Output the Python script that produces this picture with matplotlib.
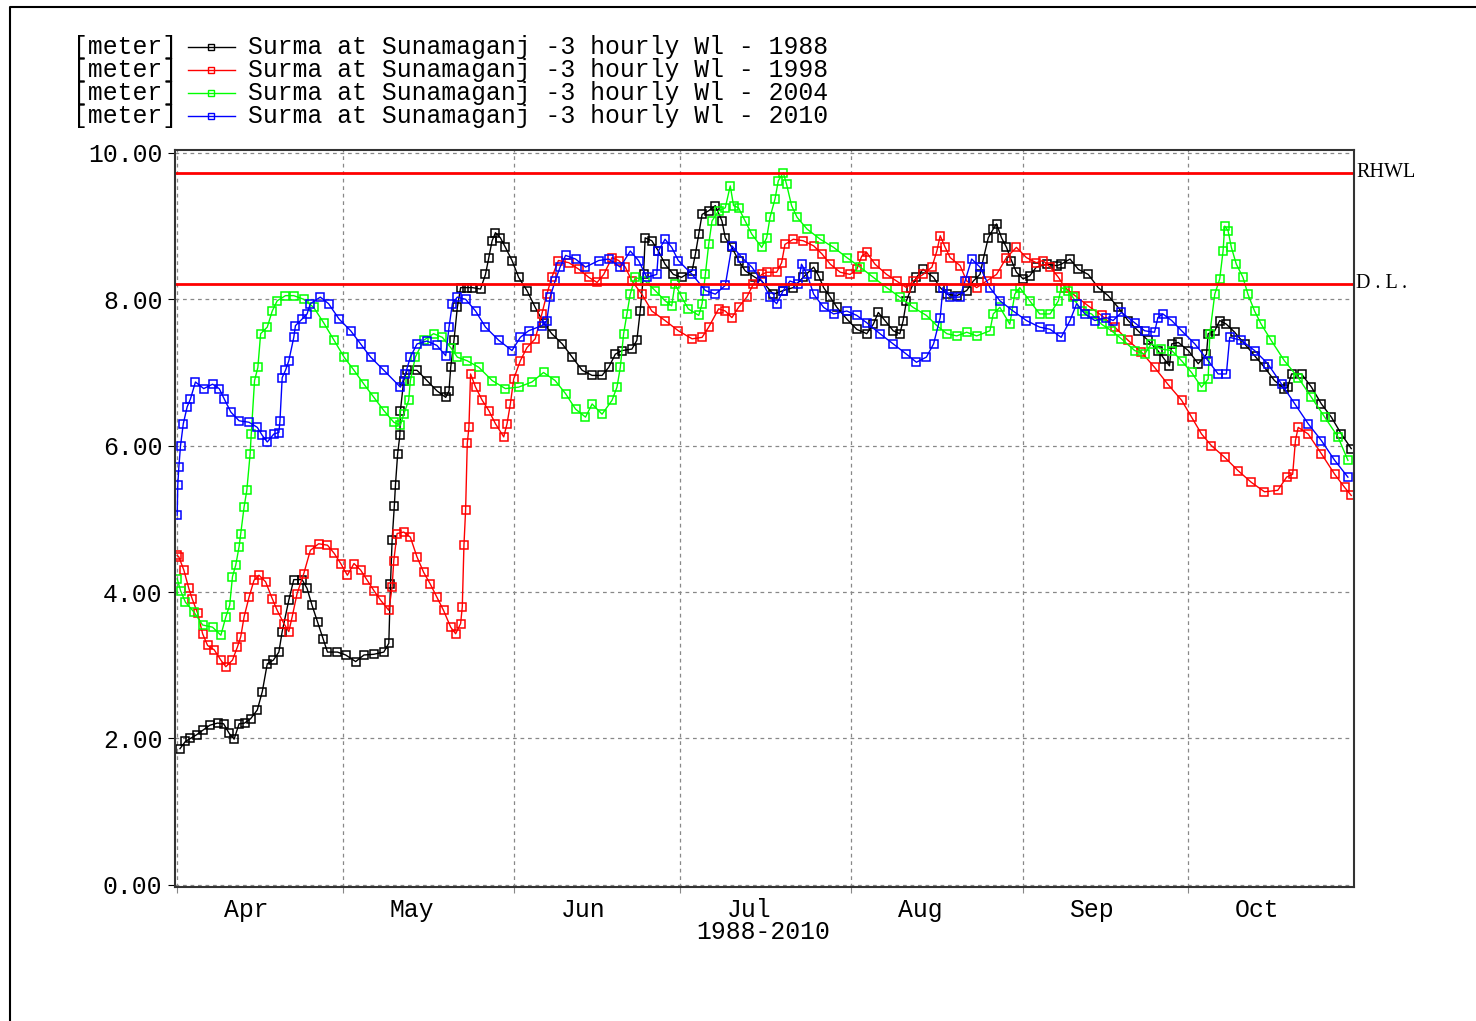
import matplotlib
matplotlib.use("Agg")
import matplotlib.pyplot as plt
from matplotlib.lines import Line2D

# days since 1 April, water level [m]
days_1988 = [0.5, 1.5, 2.4, 3.5, 4.6, 5.9, 7.3, 8.4, 9.4, 10.3, 11.2, 12.2, 13.3, 14.5, 15.4, 16.3, 17.4, 18.4, 19.0, 20.2,
             21.1, 22.6, 23.5, 24.4, 25.4, 26.4, 27.2, 29.0, 30.5, 32.3, 33.8, 35.6, 37.4, 38.3, 38.6, 38.9, 39.3, 39.5, 39.9, 40.3,
             40.4, 41.0, 41.6, 43.4, 45.2, 47.0, 48.6, 49.2, 49.5, 50.1, 50.7, 51.3, 52.5, 53.4, 54.9, 55.8, 56.4, 57.0, 57.6, 58.5,
             59.4, 60.6, 61.8, 63.3, 64.8, 66.3, 67.8, 69.7, 71.5, 73.3, 75.1, 76.9, 78.1, 79.3, 80.5, 82.3, 83.2, 83.8, 84.4, 84.7,
             85.9, 87.1, 88.3, 89.8, 91.3, 93.2, 93.8, 94.4, 95.0, 96.2, 97.4, 98.6, 99.2, 100.4, 101.6, 102.8, 104.6, 105.8, 107.9, 109.7,
             111.5, 113.3, 115.2, 116.1, 117.0, 118.2, 119.4, 121.2, 123.0, 124.8, 126.0, 126.9, 128.1, 129.6, 130.8, 131.4, 132.0, 132.9, 133.8, 135.0,
             136.9, 138.1, 139.3, 141.1, 142.9, 144.1, 145.3, 145.9, 146.8, 147.7, 148.3, 149.2, 150.1, 151.0, 151.9, 153.1, 154.3, 155.5, 157.4, 159.2,
             160.0, 161.6, 163.1, 164.9, 166.7, 168.5, 170.3, 172.1, 173.9, 175.7, 177.5, 178.7, 179.6, 180.0, 181.2, 183.0, 184.8, 186.3, 186.6, 187.8,
             188.7, 189.9, 191.4, 193.2, 195.0, 196.8, 198.6, 200.4, 201.0, 201.7, 203.5, 205.3, 207.1, 208.9, 210.7, 212.5]
wl_1988 = [1.86, 1.96, 2.00, 2.05, 2.11, 2.18, 2.21, 2.20, 2.07, 1.99, 2.20, 2.21, 2.27, 2.39, 2.64, 3.02, 3.07, 3.18, 3.46, 3.89,
           4.17, 4.17, 4.05, 3.82, 3.59, 3.36, 3.18, 3.18, 3.14, 3.05, 3.14, 3.15, 3.18, 3.30, 4.11, 4.71, 5.18, 5.46, 5.89, 6.14,
           6.48, 6.89, 7.03, 7.03, 6.89, 6.75, 6.66, 6.75, 7.07, 7.44, 7.89, 8.16, 8.16, 8.16, 8.14, 8.34, 8.57, 8.80, 8.91, 8.84,
           8.71, 8.53, 8.30, 8.12, 7.89, 7.68, 7.53, 7.39, 7.21, 7.03, 6.96, 6.96, 7.07, 7.25, 7.30, 7.32, 7.44, 7.84, 8.34, 8.84,
           8.80, 8.66, 8.48, 8.34, 8.30, 8.39, 8.62, 8.89, 9.16, 9.21, 9.28, 9.07, 8.84, 8.71, 8.53, 8.39, 8.30, 8.25, 8.07, 8.12,
           8.16, 8.30, 8.44, 8.32, 8.16, 8.03, 7.89, 7.73, 7.59, 7.53, 7.66, 7.82, 7.71, 7.57, 7.53, 7.71, 7.98, 8.16, 8.30, 8.41,
           8.30, 8.16, 8.07, 8.05, 8.12, 8.25, 8.34, 8.55, 8.84, 8.96, 9.03, 8.84, 8.71, 8.53, 8.37, 8.28, 8.32, 8.44, 8.48, 8.46,
           8.48, 8.55, 8.41, 8.34, 8.16, 8.05, 7.89, 7.71, 7.57, 7.44, 7.30, 7.18, 7.09, 7.39, 7.41, 7.30, 7.12, 7.25, 7.53, 7.57,
           7.71, 7.66, 7.55, 7.39, 7.23, 7.07, 6.89, 6.78, 6.80, 6.98, 6.98, 6.80, 6.57, 6.39, 6.16, 5.96]

days_1998 = [0.0, 0.3, 1.2, 2.1, 2.7, 3.7, 4.6, 5.5, 6.7, 7.9, 8.8, 10.0, 10.9, 11.5, 12.1, 13.0, 13.9, 14.8, 16.0, 17.2,
             18.1, 19.3, 20.2, 20.8, 21.7, 22.9, 24.1, 25.6, 27.2, 28.4, 29.6, 30.8, 32.0, 33.2, 34.4, 35.6, 36.8, 38.3, 38.9, 39.2,
             39.8, 41.0, 42.2, 43.4, 44.6, 45.8, 47.0, 48.2, 49.5, 50.4, 51.3, 51.6, 51.9, 52.2, 52.5, 52.8, 53.1, 54.0, 55.2, 56.4,
             57.6, 59.1, 59.7, 60.3, 60.9, 62.1, 63.3, 64.8, 66.0, 66.9, 67.8, 69.0, 70.9, 72.7, 74.5, 76.0, 77.2, 78.7, 79.9, 81.1,
             82.3, 84.1, 85.9, 88.3, 90.7, 93.2, 95.0, 96.2, 98.0, 99.2, 100.4, 101.6, 103.1, 104.3, 105.8, 106.7, 108.5, 109.4, 110.0, 111.5,
             113.3, 115.2, 116.7, 118.2, 120.0, 121.8, 123.0, 123.9, 124.8, 126.3, 128.4, 130.2, 132.0, 133.2, 135.0, 136.6, 137.5, 138.1, 139.0, 139.9,
             141.7, 142.9, 144.7, 146.5, 148.3, 150.1, 151.9, 153.7, 155.5, 156.7, 158.0, 159.5, 160.7, 162.5, 164.9, 167.3, 169.7, 172.1, 174.5, 176.9,
             179.3, 181.8, 183.6, 185.4, 187.2, 189.6, 192.0, 194.4, 196.8, 199.2, 200.8, 201.9, 202.4, 202.9, 204.7, 207.1, 209.5, 211.3, 212.5]
wl_1998 = [4.50, 4.48, 4.30, 4.05, 3.91, 3.71, 3.43, 3.27, 3.21, 3.07, 2.98, 3.07, 3.25, 3.39, 3.66, 3.93, 4.16, 4.23, 4.14, 3.91,
           3.75, 3.57, 3.46, 3.66, 3.98, 4.25, 4.57, 4.66, 4.64, 4.53, 4.39, 4.23, 4.39, 4.30, 4.16, 4.02, 3.89, 3.75, 4.07, 4.43,
           4.80, 4.82, 4.75, 4.48, 4.27, 4.11, 3.93, 3.75, 3.52, 3.43, 3.57, 3.80, 4.64, 5.12, 6.03, 6.25, 6.98, 6.80, 6.62, 6.48,
           6.30, 6.12, 6.30, 6.57, 6.91, 7.16, 7.34, 7.46, 7.80, 8.07, 8.30, 8.53, 8.50, 8.41, 8.30, 8.23, 8.34, 8.57, 8.53, 8.44,
           8.25, 8.07, 7.84, 7.71, 7.57, 7.46, 7.48, 7.62, 7.87, 7.84, 7.75, 7.89, 8.03, 8.21, 8.34, 8.37, 8.37, 8.50, 8.75, 8.82,
           8.80, 8.73, 8.62, 8.48, 8.37, 8.34, 8.41, 8.59, 8.64, 8.48, 8.34, 8.25, 8.16, 8.25, 8.34, 8.44, 8.66, 8.87, 8.71, 8.57,
           8.46, 8.25, 8.16, 8.25, 8.34, 8.57, 8.71, 8.57, 8.50, 8.53, 8.44, 8.30, 8.16, 8.05, 7.91, 7.78, 7.62, 7.44, 7.28, 7.07,
           6.84, 6.62, 6.39, 6.16, 6.00, 5.84, 5.66, 5.50, 5.37, 5.39, 5.57, 5.61, 6.07, 6.25, 6.16, 5.89, 5.61, 5.43, 5.32]

days_2004 = [0.0, 0.6, 1.5, 3.0, 4.6, 6.4, 7.9, 8.8, 9.5, 10.0, 10.6, 11.2, 11.5, 12.1, 12.6, 13.2, 13.4, 14.0, 14.6, 15.1,
             16.3, 17.2, 18.1, 19.6, 21.1, 22.9, 24.7, 26.5, 28.4, 30.2, 32.0, 33.8, 35.6, 37.4, 39.2, 40.4, 41.0, 41.9, 42.2, 43.1,
             44.6, 46.4, 48.0, 49.5, 50.7, 52.5, 54.6, 57.0, 59.4, 61.8, 64.2, 66.3, 68.4, 70.3, 72.1, 73.9, 75.1, 76.9, 78.7, 79.6,
             80.2, 80.8, 81.4, 82.0, 82.9, 84.7, 86.5, 88.3, 89.5, 90.1, 91.3, 92.5, 94.4, 95.0, 95.6, 96.2, 96.8, 98.0, 99.2, 100.1,
             100.7, 101.6, 102.8, 104.0, 105.8, 106.7, 107.3, 108.2, 108.8, 109.7, 110.3, 111.2, 112.2, 114.0, 116.4, 118.8, 121.2, 123.6, 126.0, 128.4,
             130.8, 133.2, 135.6, 137.5, 139.3, 141.1, 142.9, 144.7, 147.1, 147.7, 148.9, 150.7, 151.6, 152.5, 154.3, 156.1, 158.0, 159.5, 160.0, 161.2,
             162.1, 163.7, 165.5, 167.3, 169.1, 170.9, 173.3, 175.1, 176.3, 178.1, 180.0, 181.8, 183.6, 185.4, 186.6, 186.9, 187.8, 188.7, 189.3, 189.6,
             190.2, 190.8, 191.7, 192.9, 193.8, 195.0, 196.2, 198.0, 200.4, 202.9, 205.3, 207.7, 210.1, 211.9]
wl_2004 = [4.18, 4.02, 3.86, 3.73, 3.55, 3.52, 3.41, 3.66, 3.82, 4.21, 4.37, 4.62, 4.80, 5.16, 5.39, 5.89, 6.16, 6.89, 7.07, 7.53,
           7.62, 7.84, 7.98, 8.05, 8.05, 8.00, 7.89, 7.68, 7.44, 7.21, 7.03, 6.84, 6.66, 6.48, 6.32, 6.28, 6.43, 6.62, 6.89, 7.21,
           7.44, 7.53, 7.48, 7.34, 7.21, 7.16, 7.07, 6.89, 6.78, 6.80, 6.87, 7.00, 6.89, 6.71, 6.50, 6.39, 6.57, 6.43, 6.62, 6.80,
           7.07, 7.53, 7.80, 8.07, 8.30, 8.25, 8.12, 7.98, 7.91, 8.21, 8.03, 7.87, 7.78, 7.94, 8.34, 8.75, 9.07, 9.21, 9.25, 9.55,
           9.28, 9.25, 9.07, 8.89, 8.71, 8.84, 9.12, 9.37, 9.62, 9.73, 9.57, 9.28, 9.12, 8.96, 8.82, 8.71, 8.57, 8.44, 8.30, 8.16,
           8.03, 7.89, 7.78, 7.64, 7.53, 7.50, 7.55, 7.50, 7.57, 7.80, 7.89, 7.66, 8.07, 8.16, 7.98, 7.80, 7.80, 7.98, 8.16, 8.12,
           8.03, 7.84, 7.80, 7.66, 7.57, 7.46, 7.30, 7.25, 7.39, 7.32, 7.30, 7.16, 7.00, 6.80, 6.91, 7.53, 8.07, 8.28, 8.66, 9.00,
           8.94, 8.71, 8.48, 8.30, 8.07, 7.84, 7.66, 7.44, 7.16, 6.93, 6.66, 6.39, 6.12, 5.80]

days_2010 = [0.0, 0.1, 0.3, 0.6, 1.1, 1.8, 2.4, 3.3, 4.8, 6.4, 7.6, 8.5, 9.7, 11.2, 13.0, 14.5, 15.4, 16.3, 17.5, 18.4,
             18.6, 19.0, 19.6, 20.2, 21.1, 21.4, 22.6, 23.5, 24.1, 25.9, 27.4, 29.3, 31.4, 33.2, 35.0, 37.4, 40.4, 41.3, 42.2, 43.4,
             45.2, 47.0, 48.6, 49.2, 49.8, 50.7, 52.2, 54.0, 55.8, 58.2, 60.6, 62.1, 63.6, 66.0, 66.9, 67.5, 68.4, 69.3, 70.3, 72.1,
             73.9, 76.3, 78.1, 80.2, 82.0, 83.5, 85.0, 86.8, 87.1, 88.3, 89.5, 90.7, 93.2, 95.6, 97.4, 99.2, 100.4, 102.2, 104.0, 105.8,
             107.3, 108.5, 109.7, 110.9, 112.4, 113.0, 114.0, 115.2, 117.0, 118.8, 121.2, 123.0, 124.8, 127.2, 129.6, 132.0, 133.8, 135.6, 136.9, 138.1,
             138.6, 139.9, 141.7, 142.6, 143.8, 145.3, 147.1, 148.9, 151.3, 153.7, 156.1, 158.0, 160.0, 161.6, 162.8, 164.3, 166.1, 168.2, 169.4, 170.9,
             173.3, 175.1, 176.9, 177.5, 178.4, 180.0, 181.8, 184.2, 186.6, 188.4, 189.9, 190.5, 192.6, 195.0, 197.4, 199.9, 202.3, 204.7, 207.1, 209.5,
             211.9]
wl_2010 = [5.05, 5.46, 5.71, 6.00, 6.30, 6.53, 6.64, 6.87, 6.78, 6.84, 6.78, 6.64, 6.46, 6.34, 6.32, 6.25, 6.14, 6.05, 6.16, 6.18,
           6.34, 6.93, 7.03, 7.16, 7.48, 7.64, 7.73, 7.80, 7.94, 8.03, 7.94, 7.73, 7.57, 7.39, 7.21, 7.03, 6.80, 6.98, 7.21, 7.39,
           7.43, 7.37, 7.23, 7.62, 7.94, 8.03, 8.00, 7.84, 7.62, 7.44, 7.30, 7.48, 7.57, 7.64, 7.71, 8.03, 8.25, 8.44, 8.60, 8.55,
           8.44, 8.53, 8.55, 8.44, 8.66, 8.53, 8.30, 8.34, 8.66, 8.82, 8.71, 8.53, 8.34, 8.12, 8.07, 8.19, 8.73, 8.57, 8.44, 8.25,
           8.03, 7.94, 8.12, 8.25, 8.21, 8.48, 8.34, 8.07, 7.89, 7.80, 7.84, 7.78, 7.68, 7.53, 7.39, 7.25, 7.14, 7.21, 7.39, 7.75,
           8.16, 8.03, 8.03, 8.25, 8.55, 8.44, 8.16, 7.98, 7.84, 7.71, 7.62, 7.59, 7.48, 7.71, 7.94, 7.80, 7.71, 7.75, 7.71, 7.82,
           7.68, 7.57, 7.55, 7.75, 7.80, 7.71, 7.57, 7.39, 7.16, 6.98, 6.98, 7.48, 7.44, 7.30, 7.12, 6.84, 6.57, 6.30, 6.07, 5.80,
           5.57]

years = ["1988", "1998", "2004", "2010"]
colors = ["#000000", "#ff0000", "#00ff00", "#0000ff"]
series = [(days_1988, wl_1988), (days_1998, wl_1998), (days_2004, wl_2004), (days_2010, wl_2010)]

rhwl = 9.73
danger_level = 8.21

month_starts = [0, 30, 61, 91, 122, 153, 183]
month_names = ["Apr", "May", "Jun", "Jul", "Aug", "Sep", "Oct"]
month_label_pos = [12.5, 42.5, 73.5, 103.5, 134.5, 165.5, 195.5]

mono = "Liberation Mono"
fs = 17.8

W, H = 1476, 1021
fig = plt.figure(figsize=(W / 100, H / 100), dpi=100)
ax = fig.add_axes([175 / W, 1 - 887 / H, (1354 - 175) / W, (887 - 150) / H])

for (d, v), c in zip(series, colors):
    ax.plot(d, v, color=c, lw=1.0, marker="s", ms=5.5, mfc="none", mec=c, mew=1.1)

ax.axhline(rhwl, color="#ff0000", lw=2)
ax.axhline(danger_level, color="#ff0000", lw=2)

ax.set_xlim(-0.4, 213)
ax.set_ylim(-0.03, 10.04)

ax.set_yticks([0, 2, 4, 6, 8, 10])
ax.set_yticklabels(["0.00", "2.00", "4.00", "6.00", "8.00", "10.00"], fontfamily=mono, fontsize=fs)
ax.set_xticks(month_starts)
ax.set_xticklabels([])
ax.set_xticks(month_label_pos, minor=True)
ax.set_xticklabels(month_names, minor=True, fontfamily=mono, fontsize=fs)
ax.tick_params(axis="x", which="minor", length=0, pad=8)
ax.tick_params(axis="x", which="major", length=4, color="#888888")
ax.tick_params(axis="y", length=5, pad=4)

ax.grid(True, which="major", color="#888888", ls=(0, (3, 3)), lw=0.9)
for s in ax.spines.values():
    s.set_linewidth(1.5)
    s.set_color("#333333")

ax.text(106, -0.64, "1988-2010", ha="center", va="center", fontfamily=mono, fontsize=fs)
ax.text(1.002, rhwl, "RHWL", transform=ax.get_yaxis_transform(), ha="left", va="center",
        fontfamily="Liberation Serif", fontsize=14.5)
ax.text(1.002, danger_level, "D . L .", transform=ax.get_yaxis_transform(), ha="left", va="center",
        fontfamily="Liberation Serif", fontsize=14.5)

# legend drawn by hand: "[meter]" prefix before the handle
for i, (yr, c) in enumerate(zip(years, colors)):
    yy = 1 - (47 + 23 * i) / H
    fig.text(73 / W, yy, "[meter]", ha="left", va="center", fontfamily=mono, fontsize=fs)
    fig.add_artist(Line2D([188 / W, 235 / W], [yy, yy], color=c, lw=1.0, transform=fig.transFigure))
    fig.add_artist(Line2D([211.5 / W], [yy], color=c, marker="s", ms=4, mfc="none", mec=c, mew=1.0,
                          transform=fig.transFigure))
    fig.text(248 / W, yy, "Surma at Sunamaganj -3 hourly Wl - " + yr, ha="left", va="center",
             fontfamily=mono, fontsize=fs)

# outer frame (left and top edges visible)
fig.add_artist(Line2D([10 / W, 10 / W, 1.0], [0.0, 1 - 7 / H, 1 - 7 / H], color="black", lw=1.5,
                      transform=fig.transFigure))

fig.savefig("out.png", dpi=100, facecolor="white")
